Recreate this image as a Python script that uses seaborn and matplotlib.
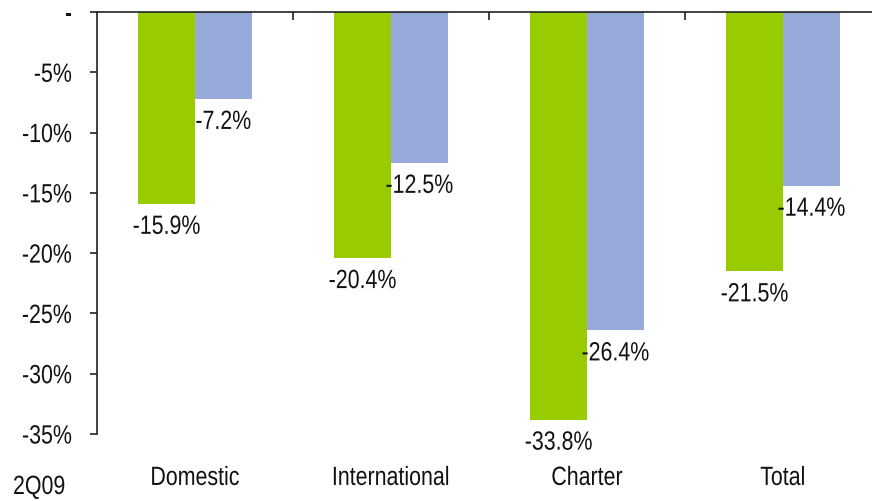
import matplotlib
matplotlib.use("Agg")
import matplotlib.pyplot as plt
import seaborn as sns
import pandas as pd
from matplotlib.ticker import FixedLocator
from matplotlib.patheffects import AbstractPathEffect
from matplotlib.transforms import Affine2D

categories = ["Domestic", "International", "Charter", "Total"]
series_names = ["2Q09", "1H09"]
quarter_change = [-15.9, -20.4, -33.8, -21.5]
half_year_change = [-7.2, -12.5, -26.4, -14.4]
y_ticks = [0, -5, -10, -15, -20, -25, -30, -35]
y_tick_labels = ["-", "-5%", "-10%", "-15%", "-20%", "-25%", "-30%", "-35%"]

df = pd.DataFrame({
    "category": categories * 2,
    "series": [series_names[0]] * 4 + [series_names[1]] * 4,
    "change": quarter_change + half_year_change,
})


class Condensed(AbstractPathEffect):
    """Squeeze glyph outlines horizontally to get a narrow typeface look."""

    def __init__(self, factor=0.81, anchor="center"):
        super().__init__()
        self.factor = factor
        self.anchor = anchor

    def draw_path(self, renderer, gc, tpath, affine, rgbFace=None):
        verts = tpath.vertices
        ref = 0.0
        if len(verts):
            xmin, xmax = verts[:, 0].min(), verts[:, 0].max()
            ref = {"left": xmin, "right": xmax, "center": 0.5 * (xmin + xmax)}[self.anchor]
        squeeze = Affine2D().translate(-ref, 0).scale(self.factor, 1).translate(ref, 0)
        renderer.draw_path(gc, tpath, squeeze + affine, rgbFace)


sns.set_theme(style="white")
plt.rcParams["font.family"] = ["Liberation Sans", "DejaVu Sans"]

FS = 19
TXT = "#111111"
W, H = 872, 501
fig = plt.figure(figsize=(W / 100, H / 100), dpi=100)
ax = fig.add_axes([97 / W, (H - 434) / H, 784 / W, 422 / H])

palette = {series_names[0]: "#99CC00", series_names[1]: "#97AADA"}
sns.barplot(data=df, x="category", y="change", hue="series", order=categories,
            hue_order=series_names, palette=palette, width=0.58, dodge=True,
            saturation=1, linewidth=0, ax=ax, legend=False)

for container in ax.containers:
    labels = ax.bar_label(container, fmt="%.1f%%", padding=8, fontsize=FS, color=TXT)
    for t in labels:
        t.set_path_effects([Condensed(anchor="center")])

ax.set_ylim(-35, 0)
ax.set_xlim(-0.5, 3.5)
ax.set_yticks(y_ticks)
ax.set_yticklabels(y_tick_labels, fontsize=FS, color=TXT)
ax.set_xticks(range(len(categories)))
ax.set_xticklabels(categories, fontsize=FS, color=TXT)
ax.set_xlabel("")
ax.set_ylabel("")
for t in ax.get_yticklabels():
    t.set_path_effects([Condensed(anchor="right")])
for t in ax.get_xticklabels():
    t.set_path_effects([Condensed(anchor="center")])

for side in ["bottom", "right"]:
    ax.spines[side].set_visible(False)
for side in ["top", "left"]:
    ax.spines[side].set_visible(True)
    ax.spines[side].set_color("#222222")
    ax.spines[side].set_linewidth(1.2)

ax.tick_params(axis="y", which="major", left=True, direction="out", length=5,
               width=1.2, color="#222222", pad=13)
ax.tick_params(axis="x", which="major", bottom=False, top=False, pad=17)
ax.xaxis.set_minor_locator(FixedLocator([0.5, 1.5, 2.5, 3.5]))
ax.tick_params(axis="x", which="minor", top=True, bottom=False, direction="in",
               length=6, width=1.2, color="#222222")
ax.grid(False)

legend_text = fig.text(13 / W, 1 - 487 / H, series_names[0], fontsize=FS, color=TXT,
                       va="center", ha="left")
legend_text.set_path_effects([Condensed(anchor="left")])

fig.savefig("out.png", dpi=100)
